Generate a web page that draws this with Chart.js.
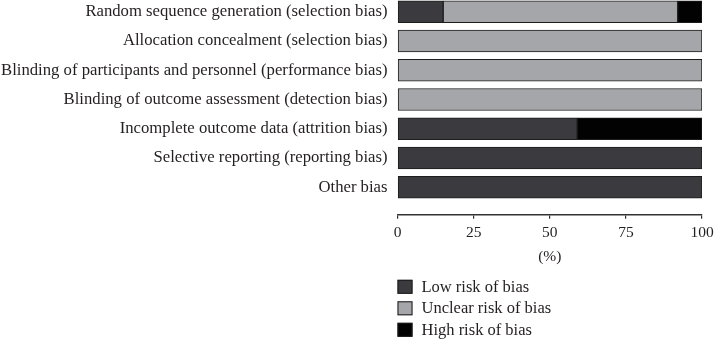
<!DOCTYPE html>
<html lang="en">

<head>
  <meta charset="utf-8">
  <title>Risk of bias</title>
  <script src="https://cdn.jsdelivr.net/npm/chart.js@4.4.1/dist/chart.umd.min.js"></script>
  <style>
    html, body { margin: 0; padding: 0; background: #fff; }
    #wrap { width: 714px; height: 339px; }
  </style>
</head>

<body>
  <div id="wrap">
    <canvas id="mychart" width="714" height="339"></canvas>
  </div>

  <script>
    var categories = [
      'Random sequence generation (selection bias)',
      'Allocation concealment (selection bias)',
      'Blinding of participants and personnel (performance bias)',
      'Blinding of outcome assessment (detection bias)',
      'Incomplete outcome data (attrition bias)',
      'Selective reporting (reporting bias)',
      'Other bias'
    ];
    var seriesNames = ['Low risk of bias', 'Unclear risk of bias', 'High risk of bias'];
    var lowRisk = [15, 0, 0, 0, 59, 100, 100];
    var unclearRisk = [77, 100, 100, 100, 0, 0, 0];
    var highRisk = [8, 0, 0, 0, 41, 0, 0];
    var xTicks = [0, 25, 50, 75, 100];

    var colors = ['#3b3b3f', '#a5a6a9', '#020202'];
    var serif = '"Liberation Serif", "DejaVu Serif", serif';
    var textColor = '#231f20';

    function toPoints(values) {
      var pts = [];
      for (var i = 0; i < values.length; i++) {
        pts.push({ x: values[i], y: i });
      }
      return pts;
    }

    var allSeries = [lowRisk, unclearRisk, highRisk];
    var datasets = [];
    for (var s = 0; s < allSeries.length; s++) {
      datasets.push({
        label: seriesNames[s],
        data: toPoints(allSeries[s]),
        backgroundColor: colors[s],
        borderColor: '#1c1c1c',
        borderWidth: 1,
        borderSkipped: false,
        barThickness: 22
      });
    }

    // legend drawn as a stacked list under the axis
    var listLegend = {
      id: 'listLegend',
      afterDraw: function (chart) {
        var ctx = chart.ctx;
        var area = chart.chartArea;
        ctx.save();
        ctx.font = '16.5px ' + serif;
        ctx.textBaseline = 'middle';
        ctx.textAlign = 'left';
        chart.data.datasets.forEach(function (ds, i) {
          var top = area.bottom + 65 + i * 21.5;
          ctx.fillStyle = ds.backgroundColor;
          ctx.fillRect(area.left, top, 15, 14);
          ctx.strokeStyle = '#1c1c1c';
          ctx.lineWidth = 1;
          ctx.strokeRect(area.left + 0.5, top + 0.5, 14, 13);
          ctx.fillStyle = textColor;
          ctx.fillText(ds.label, area.left + 24, top + 7.5);
        });
        ctx.restore();
      }
    };

    var chart = new Chart(document.getElementById('mychart').getContext('2d'), {
      type: 'bar',
      data: { datasets: datasets },
      plugins: [listLegend],
      options: {
        indexAxis: 'y',
        responsive: false,
        animation: false,
        layout: { padding: { top: 0, left: 0, right: 0, bottom: 73 } },
        plugins: {
          legend: { display: false },
          tooltip: { enabled: false }
        },
        scales: {
          x: {
            type: 'linear',
            stacked: true,
            min: 0,
            max: 100,
            afterBuildTicks: function (scale) {
              scale.ticks = xTicks.map(function (v) { return { value: v }; });
            },
            afterFit: function (scale) {
              scale.paddingRight = 12;
            },
            grid: { drawOnChartArea: false, drawTicks: true, tickLength: 4, color: '#333', lineWidth: 1.2 },
            border: { display: true, color: '#333', width: 1.5 },
            ticks: { font: { family: serif, size: 15.5 }, color: textColor, padding: 5, maxRotation: 0 },
            title: {
              display: true,
              text: '(%)',
              font: { family: serif, size: 15.5 },
              color: textColor,
              padding: { top: 0, bottom: 0 }
            }
          },
          y: {
            type: 'linear',
            stacked: true,
            reverse: true,
            offset: false,
            min: -0.4,
            max: 6.94,
            afterBuildTicks: function (scale) {
              scale.ticks = categories.map(function (c, i) { return { value: i }; });
            },
            afterFit: function (scale) {
              scale.width = 397.5;
              scale.paddingTop = 0;
              scale.paddingBottom = 0;
            },
            grid: { display: false, drawTicks: false, tickLength: 0, offset: false },
            border: { display: false },
            ticks: {
              font: { family: serif, size: 16.7 },
              color: textColor,
              padding: 10,
              callback: function (value) { return categories[value]; }
            }
          }
        }
      }
    });
  </script>

</body>

</html>
